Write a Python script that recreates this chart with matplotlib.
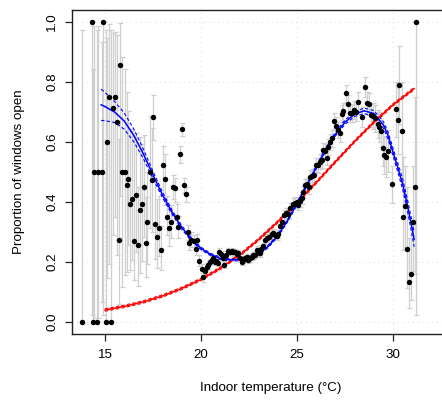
import matplotlib
matplotlib.use("Agg")
import matplotlib.pyplot as plt

plt.rcParams['font.family'] = ['Liberation Sans', 'DejaVu Sans']

# observed proportion of windows open per indoor temperature bin
temp = [13.80, 14.31, 14.39, 14.42, 14.60, 14.65, 14.83, 14.91, 15.03, 15.12,
        15.21, 15.30, 15.40, 15.52, 15.61, 15.71, 15.80, 15.87, 16.04, 16.13,
        16.21, 16.30, 16.41, 16.51, 16.61, 16.72, 16.82, 16.93, 17.03, 17.11,
        17.20, 17.34, 17.43, 17.52, 17.60, 17.73, 17.83, 17.92, 18.04, 18.13,
        18.21, 18.33, 18.44, 18.52, 18.62, 18.73, 18.82, 18.91, 19.02, 19.11,
        19.20, 19.30, 19.40, 19.50, 19.62, 19.72, 19.77, 19.91, 20.03, 20.12,
        20.21, 20.29, 20.38, 20.47, 20.55, 20.64, 20.72, 20.80, 20.88, 20.95,
        21.04, 21.13, 21.21, 21.30, 21.42, 21.50, 21.60, 21.68, 21.77, 21.85,
        21.94, 22.03, 22.12, 22.21, 22.30, 22.38, 22.47, 22.55, 22.63, 22.72,
        22.80, 22.90, 22.98, 23.07, 23.15, 23.25, 23.33, 23.45, 23.55, 23.68,
        23.77, 23.85, 23.95, 24.03, 24.11, 24.20, 24.32, 24.43, 24.55, 24.64,
        24.77, 24.90, 24.98, 25.07, 25.16, 25.25, 25.33, 25.42, 25.50, 25.60,
        25.68, 25.78, 25.89, 25.99, 26.10, 26.20, 26.28, 26.37, 26.46, 26.54,
        26.63, 26.72, 26.81, 26.93, 27.03, 27.14, 27.24, 27.33, 27.41, 27.54,
        27.64, 27.76, 27.85, 27.97, 28.07, 28.19, 28.36, 28.54, 28.63, 28.75,
        28.85, 28.94, 29.06, 29.20, 29.27, 29.35, 29.46, 29.55, 29.63, 29.75,
        29.93, 30.16, 30.24, 30.33, 30.45, 30.54, 30.63, 30.75, 30.85, 30.94,
        31.06, 31.15, 31.20]
prop = [0.000, 1.000, 0.000, 0.500, 0.000, 0.500, 0.500, 1.000, 0.000, 0.600,
        0.750, 0.000, 0.715, 0.750, 0.667, 0.273, 0.857, 0.500, 0.500, 0.456,
        0.477, 0.395, 0.409, 0.271, 0.423, 0.258, 0.373, 0.392, 0.449, 0.264,
        0.334, 0.500, 0.473, 0.682, 0.327, 0.282, 0.314, 0.240, 0.523, 0.477,
        0.351, 0.314, 0.332, 0.450, 0.447, 0.351, 0.316, 0.560, 0.642, 0.456,
        0.426, 0.300, 0.264, 0.272, 0.270, 0.242, 0.273, 0.204, 0.176, 0.149,
        0.171, 0.184, 0.190, 0.200, 0.207, 0.213, 0.200, 0.203, 0.198, 0.234,
        0.227, 0.215, 0.190, 0.225, 0.236, 0.234, 0.237, 0.232, 0.234, 0.226,
        0.229, 0.215, 0.201, 0.208, 0.212, 0.216, 0.208, 0.212, 0.217, 0.222,
        0.225, 0.240, 0.232, 0.229, 0.245, 0.252, 0.273, 0.280, 0.285, 0.292,
        0.296, 0.290, 0.287, 0.293, 0.320, 0.334, 0.357, 0.362, 0.360, 0.379,
        0.395, 0.398, 0.400, 0.390, 0.404, 0.415, 0.434, 0.457, 0.460, 0.450,
        0.484, 0.488, 0.490, 0.523, 0.522, 0.535, 0.540, 0.573, 0.570, 0.548,
        0.584, 0.601, 0.612, 0.670, 0.654, 0.640, 0.629, 0.694, 0.702, 0.762,
        0.727, 0.696, 0.696, 0.707, 0.701, 0.734, 0.684, 0.784, 0.731, 0.726,
        0.690, 0.687, 0.679, 0.660, 0.650, 0.638, 0.581, 0.557, 0.551, 0.570,
        0.459, 0.709, 0.673, 0.790, 0.638, 0.349, 0.388, 0.243, 0.134, 0.160,
        0.334, 0.451, 1.000]
ci_low = [0.000, 0.025, 0.000, 0.013, 0.000, 0.013, 0.068, 0.025, 0.000, 0.147,
          0.194, 0.000, 0.290, 0.349, 0.223, 0.060, 0.421, 0.118, 0.157, 0.167,
          0.256, 0.173, 0.207, 0.140, 0.233, 0.120, 0.165, 0.203, 0.283, 0.150,
          0.195, 0.312, 0.300, 0.607, 0.210, 0.180, 0.220, 0.175, 0.430, 0.390,
          0.290, 0.255, 0.280, 0.410, 0.400, 0.310, 0.280, 0.530, 0.620, 0.430,
          0.400, 0.275, 0.240, 0.250, 0.250, 0.225, 0.255, 0.188, 0.162, 0.135,
          0.158, 0.172, 0.178, 0.189, 0.196, 0.202, 0.189, 0.192, 0.187, 0.222,
          0.216, 0.204, 0.179, 0.214, 0.225, 0.223, 0.226, 0.221, 0.223, 0.215,
          0.218, 0.204, 0.190, 0.197, 0.201, 0.205, 0.197, 0.201, 0.206, 0.210,
          0.213, 0.228, 0.220, 0.217, 0.232, 0.239, 0.259, 0.266, 0.271, 0.278,
          0.282, 0.276, 0.273, 0.279, 0.305, 0.318, 0.340, 0.345, 0.343, 0.361,
          0.377, 0.380, 0.382, 0.372, 0.385, 0.395, 0.413, 0.436, 0.439, 0.428,
          0.462, 0.465, 0.467, 0.500, 0.498, 0.511, 0.515, 0.548, 0.545, 0.522,
          0.558, 0.575, 0.585, 0.643, 0.626, 0.612, 0.600, 0.666, 0.673, 0.735,
          0.698, 0.666, 0.666, 0.676, 0.670, 0.702, 0.650, 0.750, 0.695, 0.690,
          0.650, 0.645, 0.635, 0.612, 0.600, 0.585, 0.520, 0.495, 0.485, 0.500,
          0.397, 0.618, 0.560, 0.660, 0.470, 0.240, 0.250, 0.112, 0.046, 0.073,
          0.170, 0.160, 0.025]
ci_high = [0.975, 1.000, 0.842, 0.987, 0.975, 0.987, 0.932, 1.000, 0.975, 0.947,
           0.994, 0.975, 0.963, 0.968, 0.957, 0.610, 0.996, 0.882, 0.843, 0.766,
           0.705, 0.645, 0.636, 0.620, 0.630, 0.450, 0.616, 0.594, 0.622, 0.416,
           0.500, 0.688, 0.648, 0.757, 0.470, 0.410, 0.420, 0.320, 0.588, 0.560,
           0.420, 0.380, 0.390, 0.490, 0.480, 0.395, 0.355, 0.588, 0.662, 0.480,
           0.450, 0.325, 0.290, 0.300, 0.290, 0.262, 0.292, 0.222, 0.192, 0.164,
           0.185, 0.197, 0.202, 0.211, 0.218, 0.224, 0.211, 0.214, 0.209, 0.246,
           0.238, 0.226, 0.201, 0.236, 0.247, 0.245, 0.248, 0.243, 0.245, 0.237,
           0.240, 0.226, 0.212, 0.219, 0.223, 0.227, 0.219, 0.223, 0.228, 0.234,
           0.237, 0.252, 0.244, 0.241, 0.258, 0.265, 0.287, 0.294, 0.299, 0.306,
           0.310, 0.304, 0.301, 0.307, 0.335, 0.350, 0.374, 0.379, 0.377, 0.397,
           0.413, 0.416, 0.418, 0.408, 0.423, 0.435, 0.455, 0.478, 0.481, 0.472,
           0.506, 0.511, 0.513, 0.546, 0.546, 0.559, 0.565, 0.598, 0.595, 0.574,
           0.610, 0.627, 0.639, 0.697, 0.682, 0.668, 0.658, 0.722, 0.731, 0.789,
           0.756, 0.726, 0.726, 0.738, 0.732, 0.766, 0.718, 0.818, 0.767, 0.762,
           0.730, 0.729, 0.723, 0.708, 0.700, 0.691, 0.642, 0.619, 0.617, 0.640,
           0.520, 0.800, 0.785, 0.920, 0.800, 0.550, 0.520, 0.450, 0.280, 0.290,
           0.520, 0.750, 1.000]

# flexible fit (blue), with half width of its band
fit_t = [14.8, 15.0, 15.5, 16.0, 16.5, 17.0, 17.5, 18.0, 18.5, 19.0, 19.5,
         20.0, 20.5, 21.0, 21.5, 22.0, 22.5, 23.0, 23.5, 24.0, 24.5, 25.0,
         25.5, 26.0, 26.5, 27.0, 27.5, 28.0, 28.5, 29.0, 29.5, 29.75, 30.0,
         30.25, 30.5, 30.75, 31.0, 31.1]
fit_p = [0.724, 0.718, 0.700, 0.670, 0.622, 0.560, 0.490, 0.423, 0.365, 0.315,
         0.275, 0.245, 0.225, 0.212, 0.207, 0.208, 0.214, 0.228, 0.252, 0.288,
         0.337, 0.395, 0.455, 0.515, 0.575, 0.626, 0.666, 0.693, 0.704, 0.695,
         0.657, 0.620, 0.566, 0.515, 0.460, 0.390, 0.310, 0.275]
fit_se = [0.052, 0.047, 0.035, 0.027, 0.021, 0.016, 0.012, 0.009, 0.007, 0.006,
          0.005, 0.004, 0.004, 0.004, 0.004, 0.004, 0.004, 0.004, 0.004, 0.004,
          0.004, 0.004, 0.004, 0.005, 0.005, 0.006, 0.007, 0.008, 0.009, 0.010,
          0.011, 0.012, 0.013, 0.015, 0.017, 0.019, 0.022, 0.024]

# simple logistic fit (red)
lin_t = [15.0, 16.0, 17.0, 18.0, 19.0, 20.0, 21.0, 22.0, 23.0, 24.0, 25.0,
         26.0, 27.0, 28.0, 29.0, 30.0, 31.1]
lin_p = [0.040, 0.052, 0.067, 0.087, 0.112, 0.142, 0.179, 0.222, 0.275, 0.334,
         0.397, 0.465, 0.534, 0.602, 0.666, 0.724, 0.778]
lin_se = 0.004

fig = plt.figure(figsize=(4.42, 4.04), dpi=100)
ax = fig.add_axes([72 / 442, 70 / 404, (470 - 72) / 442, 324 / 404])

ax.set_xlim(13.281, 34.01)
ax.set_ylim(-0.04, 1.04)

for v in [0.0, 0.2, 0.4, 0.6, 0.8, 1.0]:
    ax.axhline(v, color="#d9d9d9", lw=0.7, ls=(0, (1, 4)), zorder=0)
for v in [15, 20, 25, 30]:
    ax.axvline(v, color="#d9d9d9", lw=0.7, ls=(0, (1, 4)), zorder=0)

yerr = [[p - lo for p, lo in zip(prop, ci_low)],
        [hi - p for p, hi in zip(prop, ci_high)]]
ax.errorbar(temp, prop, yerr=yerr, fmt="none", ecolor="#cfcfcf",
            elinewidth=0.9, capsize=1.8, capthick=0.9, zorder=1)

lo_band = [p - s for p, s in zip(fit_p, fit_se)]
hi_band = [p + s for p, s in zip(fit_p, fit_se)]
ax.plot(lin_t, [p - lin_se for p in lin_p], color="red", lw=0.8, ls=(0, (3, 2)), zorder=2)
ax.plot(lin_t, [p + lin_se for p in lin_p], color="red", lw=0.8, ls=(0, (3, 2)), zorder=2)
ax.plot(lin_t, lin_p, color="red", lw=1.1, zorder=3)
ax.plot(fit_t, lo_band, color="blue", lw=0.8, ls=(0, (3, 2)), zorder=2)
ax.plot(fit_t, hi_band, color="blue", lw=0.8, ls=(0, (3, 2)), zorder=2)
ax.plot(fit_t, fit_p, color="blue", lw=1.1, zorder=3)

ax.plot(temp, prop, "o", color="black", ms=3.9, mew=0, zorder=4)

ax.spines["right"].set_visible(False)
for s in ["left", "bottom", "top"]:
    ax.spines[s].set_linewidth(1.0)
    ax.spines[s].set_color("#222222")

ax.set_xticks([15, 20, 25, 30])
ax.set_yticks([0.0, 0.2, 0.4, 0.6, 0.8, 1.0])
ax.set_yticklabels(["0.0", "0.2", "0.4", "0.6", "0.8", "1.0"], rotation=90, va="center")
ax.tick_params(direction="out", length=5, width=0.9, labelsize=9.6, color="#222222")
ax.tick_params(axis="x", pad=6)
ax.tick_params(axis="y", pad=5)

ax.set_xlabel("Indoor temperature (°C)", fontsize=9.6, labelpad=15)
ax.set_ylabel("Proportion of windows open", fontsize=9.6, labelpad=15)

fig.savefig("out.png", dpi=100)
